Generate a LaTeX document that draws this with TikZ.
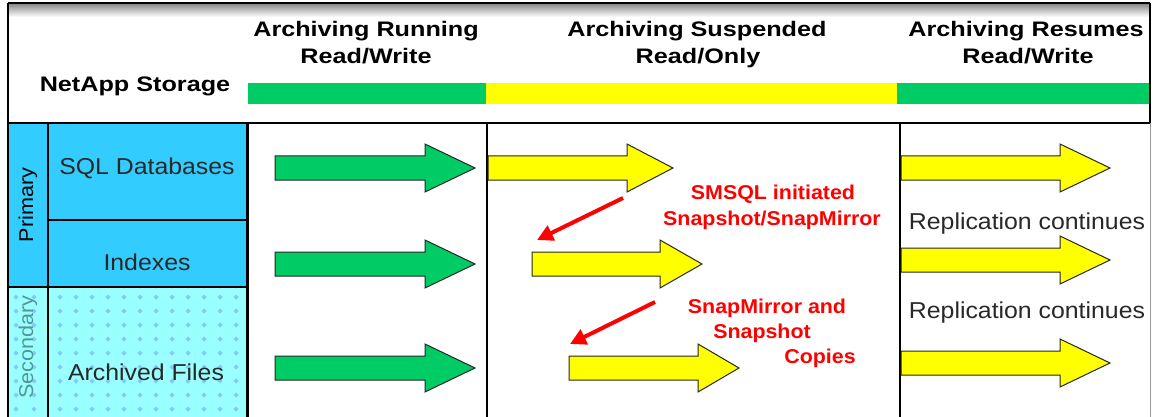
\documentclass[tikz,border=0pt]{standalone}
\usepackage{fontspec}
\setmainfont{Liberation Sans}
\newfontfamily\hdrfont{Liberation Sans}[FakeStretch=1.2]
\newfontfamily\cellfont{Liberation Sans}[FakeStretch=1.08]
\newfontfamily\redfont{Liberation Sans}[FakeStretch=1.07]
\newfontfamily\sidefont{Liberation Sans}[FakeStretch=1.08]
\usetikzlibrary{arrows.meta}
\definecolor{cellblue}{RGB}{51,204,255}
\definecolor{cellcyan}{RGB}{153,255,255}
\definecolor{dotblue}{RGB}{130,200,255}
\definecolor{bargreen}{RGB}{0,204,102}
\definecolor{baryellow}{RGB}{255,255,0}
\definecolor{redtxt}{RGB}{255,0,0}
\definecolor{txtgray}{RGB}{40,40,40}
\definecolor{secgray}{RGB}{80,150,150}
\tikzset{
  hdr/.style={font=\hdrfont\bfseries\fontsize{21}{24}\selectfont, anchor=base, inner sep=0pt},
  cell/.style={font=\cellfont\fontsize{23}{26}\selectfont, text=txtgray, anchor=base, inner sep=0pt},
  side/.style={font=\sidefont\fontsize{20}{22}\selectfont, rotate=90, anchor=base, inner sep=0pt},
  redlbl/.style={font=\redfont\bfseries\fontsize{20}{22}\selectfont, text=redtxt, anchor=base, inner sep=0pt},
  frame/.style={draw=black, line width=2.5pt},
  thin/.style={draw=black, line width=1.5pt},
  blockarr/.style={draw=black!85, line width=1pt, line join=miter},
  redarr/.style={draw=redtxt, line width=4pt, -{Triangle[length=16pt,width=16pt]}}
}
\newcommand\blockarrow[5]{%
  \draw[blockarr, fill=#5] (#1,#4-12) -- (#2,#4-12) -- (#2,#4-24) -- (#3,#4) -- (#2,#4+24) -- (#2,#4+12) -- (#1,#4+12) -- cycle;}
\begin{document}
\begin{tikzpicture}[x=1pt,y=-1pt]
\useasboundingbox (0,0) rectangle (1154,417);
\fill[white] (0,0) rectangle (1154,417);
% header shadow
\shade[top color=black!45, bottom color=white] (9,4) rectangle (1150,17);
% colour bar
\fill[bargreen] (248,83) rectangle (486,104);
\fill[baryellow] (486,83) rectangle (897,104);
\fill[bargreen] (897,83) rectangle (1150,104);
% left cells
\fill[cellblue] (9,124) rectangle (247,287);
\fill[cellcyan] (9,287) rectangle (247,417);
\foreach \px in {16,34,60,76,...,240} {
  \foreach \py in {297,311,...,412} {
    \fill[dotblue] (\px,\py-2.5) -- (\px+2.5,\py) -- (\px,\py+2.5) -- (\px-2.5,\py) -- cycle;
  }
}
% frame lines
\draw[frame] (8,3) -- (1150,3);
\draw[frame] (8,3) -- (8,417);
\draw[frame] (1150,3) -- (1150,123);
\draw[draw=black!40, line width=1pt] (1150,123) -- (1150,417);
\draw[frame] (8,123) -- (1150,123);
\draw[frame] (48,123) -- (48,417);
\draw[thin] (48,220) -- (247,220);
\draw[frame] (8,287) -- (247,287);
\draw[frame] (247.5,123) -- (247.5,417);
\draw[frame] (487,123) -- (487,417);
\draw[frame] (900,123) -- (900,417);
% header text
\node[hdr] (ns) at (135,92) {NetApp Storage};
\node[hdr] (h1a) at (366,37) {Archiving Running};
\node[hdr] (h1b) at (366,64) {Read/Write};
\node[hdr] (h2a) at (697,37) {Archiving Suspended};
\node[hdr] (h2b) at (698,64) {Read/Only};
\node[hdr] (h3a) at (1026,37) {Archiving Resumes};
\node[hdr] (h3b) at (1028,64) {Read/Write};
% left labels
\node[side] (prim) at (33,205) {Primary};
\node[side, text=secgray] (sec) at (33,347) {Secondary};
\node[cell] (sql) at (147,175) {SQL Databases};
\node[cell] (idx) at (147,270) {Indexes};
\node[cell] (arch) at (146,380) {Archived Files};
% green arrows
\blockarrow{275}{425}{475}{168}{bargreen}
\blockarrow{275}{425}{475}{264}{bargreen}
\blockarrow{275}{425}{475}{368}{bargreen}
% yellow arrows col 2
\blockarrow{488}{627}{673}{168}{baryellow}
\blockarrow{532}{660}{702}{264}{baryellow}
\blockarrow{569}{698}{739}{368}{baryellow}
% yellow arrows col 3
\blockarrow{901}{1060}{1110}{168}{baryellow}
\blockarrow{901}{1060}{1110}{260}{baryellow}
\blockarrow{901}{1060}{1110}{363}{baryellow}
% red annotations
\node[redlbl] (r1a) at (773,199) {SMSQL initiated};
\node[redlbl] (r1b) at (772,225) {Snapshot/SnapMirror};
\node[redlbl] (r2a) at (767,313) {SnapMirror and};
\node[redlbl] (r2b) at (762,338) {Snapshot};
\node[redlbl] (r2c) at (820,363) {Copies};
\coordinate (r1s) at (623,198);
\coordinate (r1e) at (537,240);
\coordinate (r2s) at (655,302);
\coordinate (r2e) at (570,344);
\draw[redarr] (r1s) -- (r1e);
\draw[redarr] (r2s) -- (r2e);
% replication text
\node[cell] (rep1) at (1027,229) {Replication continues};
\node[cell] (rep2) at (1027,318) {Replication continues};
\end{tikzpicture}
\end{document}
